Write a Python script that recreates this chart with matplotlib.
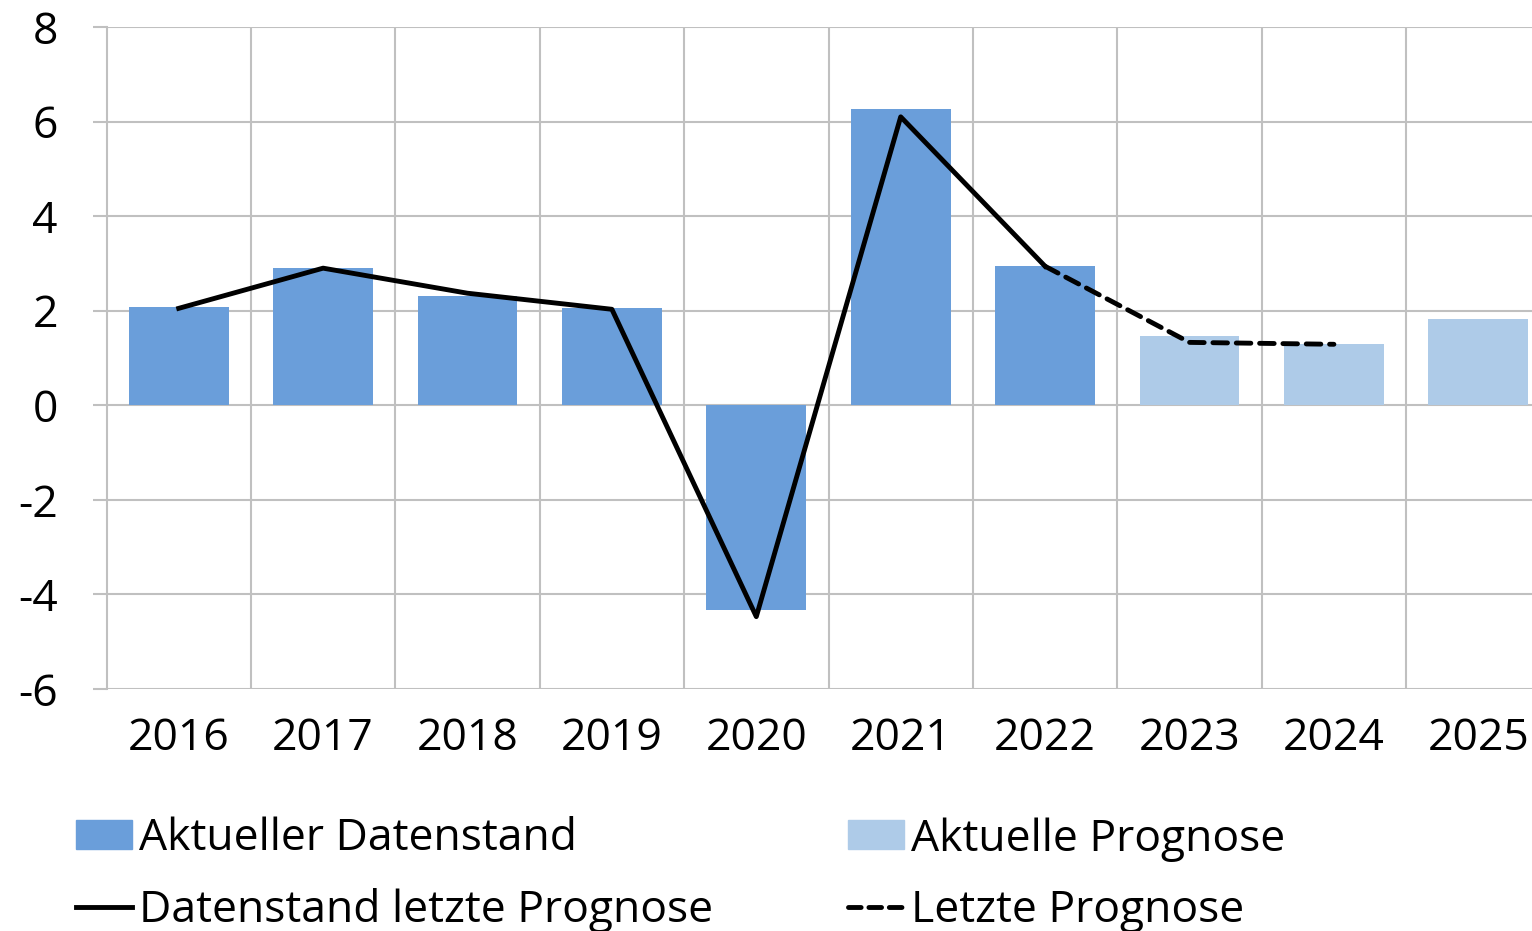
import matplotlib.pyplot as plt
import numpy as np
from matplotlib.patches import Patch
from matplotlib.lines import Line2D

# data
years = ['2016', '2017', '2018', '2019', '2020', '2021', '2022', '2023', '2024', '2025']
aktuell_daten = [2.07, 2.90, 2.31, 2.05, -4.32, 6.26, 2.94]          # 2016-2022
aktuell_prognose = [1.46, 1.29, 1.82]                                 # 2023-2025
letzte_daten = [2.05, 2.90, 2.37, 2.03, -4.47, 6.10, 2.94]            # 2016-2022
letzte_prognose = [2.94, 1.33, 1.29]                                  # 2022-2024

plt.rcParams['font.family'] = ['Open Sans', 'DejaVu Sans']

dark = '#6A9EDA'
light = '#AECBE8'
grid = '#C0C0C0'
fs = 32

fig = plt.figure(figsize=(15.32, 9.31), dpi=100)
W, H = 1532, 931
ax = fig.add_axes([106.5 / W, 1 - 689 / H, 1444 / W, (689 - 27) / H])

x = np.arange(len(years))
n_data = len(aktuell_daten)
ax.bar(x[:n_data], aktuell_daten, width=0.69, color=dark, zorder=2)
ax.bar(x[n_data:], aktuell_prognose, width=0.69, color=light, zorder=2)

ax.plot(x[:n_data], letzte_daten, color='black', lw=3.5, zorder=3)
ax.plot(x[n_data - 1:n_data + 2], letzte_prognose, color='black', lw=3.5,
        linestyle=(0, (3, 1.8)), dash_capstyle='round', zorder=3)

ax.set_xlim(-0.5, len(years) - 0.5)
ax.set_ylim(-6, 8)
ax.set_yticks(range(-6, 9, 2))
ax.set_yticklabels([str(v) for v in range(-6, 9, 2)])

# horizontal gridlines and category separators
for yv in range(-6, 9, 2):
    ax.axhline(yv, color=grid, lw=1.5, zorder=1)
for b in np.arange(0.5, len(years) - 0.5, 1):
    ax.axvline(b, color=grid, lw=1.5, zorder=1)

ax.set_xticks(x)
ax.set_xticklabels(years)
for s in ['top', 'right', 'bottom']:
    ax.spines[s].set_visible(False)
ax.spines['left'].set_color(grid)
ax.spines['left'].set_linewidth(1.5)
ax.tick_params(axis='y', length=10, width=1.5, color=grid, pad=25, labelsize=fs)
ax.tick_params(axis='x', length=0, pad=20, labelsize=fs)

handles = [
    Patch(color=dark, label='Aktueller Datenstand'),
    Line2D([], [], color='black', lw=3.5, label='Datenstand letzte Prognose'),
    Patch(color=light, label='Aktuelle Prognose'),
    Line2D([], [], color='black', lw=3.5, linestyle=(0, (2.6, 1.6)),
           dash_capstyle='round', label='Letzte Prognose'),
]
fig.legend(handles=handles, ncol=2, loc='upper left',
           bbox_to_anchor=(76 / W, 1 - 817 / H), frameon=False,
           fontsize=fs, handlelength=1.25, handleheight=0.63, handletextpad=0.16,
           columnspacing=3.05, labelspacing=0.6, borderaxespad=0, borderpad=0)

fig.savefig('out.png', dpi=100)
